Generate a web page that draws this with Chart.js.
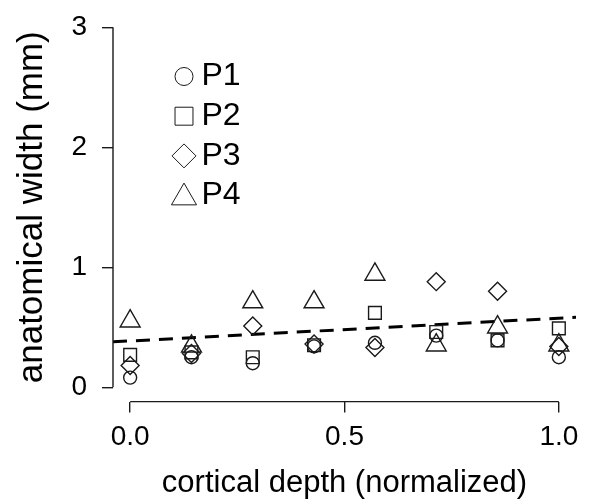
<!DOCTYPE html>
<html>
<head>
<meta charset="utf-8">
<script src="https://cdn.jsdelivr.net/npm/chart.js@4.4.1/dist/chart.umd.min.js"></script>
<style>
  html, body { margin: 0; padding: 0; background: #fff; }
</style>
</head>
<body>
<canvas id="chart" width="589" height="502"></canvas>
<script>
// data
const depth = [0, 0.143, 0.286, 0.429, 0.571, 0.714, 0.857, 1.0];
const p1 = [0.08, 0.25, 0.20, 0.34, 0.37, 0.43, 0.39, 0.25];
const p2 = [0.27, 0.29, 0.25, 0.35, 0.62, 0.46, 0.39, 0.49];
const p3 = [0.18, 0.28, 0.51, 0.36, 0.33, 0.88, 0.80, 0.34];
const p4 = [0.55, 0.34, 0.71, 0.71, 0.94, 0.35, 0.50, 0.35];
const fitX = [-0.04, 1.04];
const fitY = [0.378, 0.583];
const xTicks = [0, 0.5, 1];
const yTicks = [0, 1, 2, 3];
const seriesNames = ["P1", "P2", "P3", "P4"];
const shapes = ["circle", "rect", "rectRot", "triangle"];

const FONT = '"Liberation Sans", Arial, sans-serif';
const INK = "#1a1a1a";
Chart.defaults.font.family = FONT;
Chart.defaults.color = "#000";

const pts = (ys) => ys.map((v, i) => ({ x: depth[i], y: v }));
const markerSize = { circle: 6.5, rect: 9, rectRot: 9, triangle: 11.5 };
const legendSize = { circle: 9, rect: 12.7, rectRot: 12, triangle: 14.5 };

const series = [p1, p2, p3, p4].map((ys, i) => ({
  label: seriesNames[i],
  data: pts(ys),
  showLine: false,
  pointStyle: shapes[i],
  pointRadius: markerSize[shapes[i]],
  pointBorderColor: INK,
  pointBackgroundColor: "rgba(0,0,0,0)",
  pointBorderWidth: 1.4
}));

// R style detached axis lines, only between first and last tick
const axisLines = {
  id: "axisLines",
  afterDraw(chart) {
    const { ctx, chartArea: a, scales: { x, y } } = chart;
    ctx.save();
    ctx.strokeStyle = INK;
    ctx.lineWidth = 1.4;
    ctx.beginPath();
    ctx.moveTo(a.left, y.getPixelForValue(yTicks[0]));
    ctx.lineTo(a.left, y.getPixelForValue(yTicks[yTicks.length - 1]));
    ctx.moveTo(x.getPixelForValue(xTicks[0]), a.bottom);
    ctx.lineTo(x.getPixelForValue(xTicks[xTicks.length - 1]), a.bottom);
    ctx.stroke();
    ctx.restore();
  }
};

// symbol legend in the upper left
const symbolLegend = {
  id: "symbolLegend",
  afterDraw(chart) {
    const { ctx, chartArea: a } = chart;
    ctx.save();
    seriesNames.forEach((name, i) => {
      const cx = a.left + 71;
      const cy = a.top + 63.6 + i * 39.7;
      ctx.strokeStyle = INK;
      ctx.fillStyle = "rgba(0,0,0,0)";
      Chart.helpers.drawPoint(ctx, {
        pointStyle: shapes[i],
        radius: legendSize[shapes[i]],
        rotation: 0,
        borderWidth: 1.4
      }, cx, shapes[i] === "triangle" ? cy + 2 : cy);
      ctx.fillStyle = "#000";
      ctx.font = "32px " + FONT;
      ctx.textBaseline = "middle";
      ctx.textAlign = "left";
      ctx.fillText(name, cx + 17.5, cy);
    });
    ctx.restore();
  }
};

const noPad = (s) => { s.paddingTop = 0; s.paddingBottom = 0; s.paddingLeft = 0; s.paddingRight = 0; };

new Chart(document.getElementById("chart"), {
  type: "scatter",
  data: {
    datasets: [
      ...series,
      {
        label: "fit",
        data: fitX.map((v, i) => ({ x: v, y: fitY[i] })),
        showLine: true,
        borderColor: "#000",
        borderWidth: 3,
        borderDash: [14, 9],
        pointRadius: 0
      }
    ]
  },
  options: {
    responsive: false,
    animation: false,
    events: [],
    layout: { padding: { top: 7.4, right: 13, left: 0, bottom: 0 } },
    plugins: { legend: { display: false }, tooltip: { enabled: false } },
    scales: {
      x: {
        type: "linear",
        min: -0.04,
        max: 1.04,
        afterBuildTicks: (s) => { s.ticks = xTicks.map(v => ({ value: v })); },
        afterFit: (s) => { s.height = 100.4; noPad(s); },
        ticks: { font: { size: 28 }, padding: 8, maxRotation: 0, callback: (v) => v.toFixed(1) },
        grid: { drawOnChartArea: false, tickLength: 11, color: INK, lineWidth: 1.4 },
        border: { display: false },
        title: { display: true, text: "cortical depth (normalized)", font: { size: 31 }, padding: { top: 0, bottom: 0 } }
      },
      y: {
        type: "linear",
        min: -0.12,
        max: 3.12,
        afterBuildTicks: (s) => { s.ticks = yTicks.map(v => ({ value: v })); },
        afterFit: (s) => { s.width = 113; noPad(s); },
        ticks: { font: { size: 28 }, padding: 15, callback: (v) => String(v) },
        grid: { drawOnChartArea: false, tickLength: 11, color: INK, lineWidth: 1.4 },
        border: { display: false },
        title: { display: true, text: "anatomical width (mm)", font: { size: 35 }, padding: { top: 11, bottom: 0 } }
      }
    }
  },
  plugins: [axisLines, symbolLegend]
});
</script>
</body>
</html>
